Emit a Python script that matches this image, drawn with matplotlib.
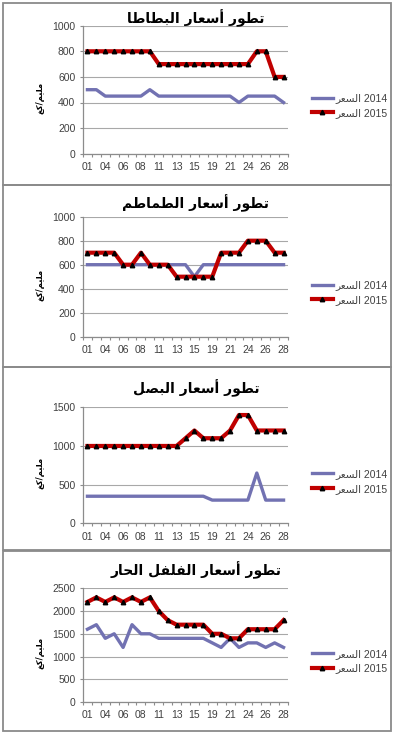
import matplotlib
matplotlib.use("Agg")
import matplotlib.pyplot as plt
from matplotlib.patches import Rectangle

# days of the month on the x axis
days = ['01', '03', '04', '05', '06', '07', '08', '10', '11', '12', '13', '14',
        '15', '18', '19', '20', '21', '22', '24', '25', '26', '27', '28']

potato_2014 = [500, 500, 450, 450, 450, 450, 450, 500, 450, 450, 450, 450,
               450, 450, 450, 450, 450, 400, 450, 450, 450, 450, 400]
potato_2015 = [800, 800, 800, 800, 800, 800, 800, 800, 700, 700, 700, 700,
               700, 700, 700, 700, 700, 700, 700, 800, 800, 600, 600]

tomato_2014 = [600, 600, 600, 600, 600, 600, 600, 600, 600, 600, 600, 600,
               500, 600, 600, 600, 600, 600, 600, 600, 600, 600, 600]
tomato_2015 = [700, 700, 700, 700, 600, 600, 700, 600, 600, 600, 500, 500,
               500, 500, 500, 700, 700, 700, 800, 800, 800, 700, 700]

onion_2014 = [350, 350, 350, 350, 350, 350, 350, 350, 350, 350, 350, 350,
              350, 350, 300, 300, 300, 300, 300, 650, 300, 300, 300]
onion_2015 = [1000, 1000, 1000, 1000, 1000, 1000, 1000, 1000, 1000, 1000, 1000, 1100,
              1200, 1100, 1100, 1100, 1200, 1400, 1400, 1200, 1200, 1200, 1200]

pepper_2014 = [1600, 1700, 1400, 1500, 1200, 1700, 1500, 1500, 1400, 1400, 1400, 1400,
               1400, 1400, 1300, 1200, 1400, 1200, 1300, 1300, 1200, 1300, 1200]
pepper_2015 = [2200, 2300, 2200, 2300, 2200, 2300, 2200, 2300, 2000, 1800, 1700, 1700,
               1700, 1700, 1500, 1500, 1400, 1400, 1600, 1600, 1600, 1600, 1800]

titles = ['تطور أسعار البطاطا', 'تطور أسعار الطماطم',
          'تطور أسعار البصل', 'تطور أسعار الفلفل الحار']
ylabel = 'مليم/كغ'
series_word = 'السعر'


# matplotlib has no arabic shaping, so do it by hand with presentation forms
def dual(b):
    return (b, b + 1, b + 2, b + 3)

def right(b):
    return (b, b + 1, None, None)

FORMS = {
    'ا': right(0xFE8D), 'أ': right(0xFE83), 'ر': right(0xFEAD), 'و': right(0xFEED),
    'ب': dual(0xFE8F), 'ت': dual(0xFE95), 'ح': dual(0xFEA1), 'س': dual(0xFEB1),
    'ص': dual(0xFEB9), 'ط': dual(0xFEC1), 'ع': dual(0xFEC9), 'غ': dual(0xFECD),
    'ف': dual(0xFED1), 'ك': dual(0xFED9), 'ل': dual(0xFEDD), 'م': dual(0xFEE1),
    'ي': dual(0xFEF1),
}

def shape(s):
    out = []
    for i, c in enumerate(s):
        if c not in FORMS:
            out.append(c)
            continue
        iso, fin, ini, med = FORMS[c]
        prev = s[i - 1] if i > 0 else ''
        nxt = s[i + 1] if i + 1 < len(s) else ''
        jp = prev in FORMS and FORMS[prev][2] is not None
        jn = nxt in FORMS and ini is not None
        if jp and jn:
            code = med
        elif jp:
            code = fin
        elif jn:
            code = ini
        else:
            code = iso
        out.append(chr(code))
    return ''.join(out)[::-1]


W, H = 394, 733
fig = plt.figure(figsize=(W / 100, H / 100), dpi=100)
plt.rcParams['font.family'] = ['Liberation Sans', 'DejaVu Sans']

# y range, y step, plot top/bottom, border top/bottom, title y (pixels)
panels = [
    (potato_2014, potato_2015, 1000, 200, 25.7, 153.7, 3, 184.5, 18),
    (tomato_2014, tomato_2015, 1000, 200, 216.7, 336.7, 185, 366.5, 203),
    (onion_2014, onion_2015, 1500, 500, 407.3, 523.3, 367, 549.5, 388),
    (pepper_2014, pepper_2015, 2500, 500, 588.3, 702, 550.5, 730.5, 570),
]

gray = '#8c8c8c'
x = list(range(len(days)))

for k, (s14, s15, ymax, ystep, ytop, ybot, btop, bbot, ty) in enumerate(panels):
    # border around each chart
    fig.add_artist(Rectangle((2.5 / W, 1 - bbot / H), 388 / W, (bbot - btop) / H,
                             transform=fig.transFigure, fill=False,
                             edgecolor='#8a8a8a', lw=1.3))
    ax = fig.add_axes([83 / W, 1 - ybot / H, 205 / W, (ybot - ytop) / H])
    ax.plot(x, s14, color='#7272b2', lw=2.4,
            label=shape(series_word) + ' 2014')
    ax.plot(x, s15, color='#c00000', lw=3.0, marker='^', ms=3.2,
            mfc='black', mec='black', label=shape(series_word) + ' 2015')
    ax.set_xlim(-0.5, len(days) - 0.5)
    ax.set_ylim(0, ymax)
    ax.set_yticks(range(0, ymax + 1, ystep))
    ax.set_xticks(x[::2])
    ax.set_xticklabels(days[::2])
    ax.set_xticks([i - 0.5 for i in range(len(days) + 1)], minor=True)
    ax.tick_params(axis='x', which='major', length=0, pad=6, labelsize=7.5,
                   labelcolor='#404040')
    ax.tick_params(axis='x', which='minor', length=2.5, color=gray, width=0.8)
    ax.tick_params(axis='y', length=2.5, color=gray, width=0.8, pad=3,
                   labelsize=7.5, labelcolor='#404040')
    ax.grid(axis='y', color='#a8a8a8', lw=0.8)
    ax.set_axisbelow(True)
    for sp in ['top', 'right']:
        ax.spines[sp].set_visible(False)
    for sp in ['left', 'bottom']:
        ax.spines[sp].set_color(gray)
        ax.spines[sp].set_linewidth(0.9)

    fig.text(196 / W, 1 - ty / H, shape(titles[k]), ha='center', va='center',
             fontsize=10, fontweight='bold', family=['DejaVu Sans'])
    fig.text(40 / W, 1 - ((ytop + ybot) / 2 + 8) / H, shape(ylabel), rotation=90,
             ha='center', va='center', fontsize=6, fontweight='bold',
             family=['DejaVu Sans'])
    ax.legend(loc='center left', bbox_to_anchor=(312 / W, 1 - ((ytop + ybot) / 2 + 16) / H),
              bbox_transform=fig.transFigure, frameon=False, fontsize=7.5,
              handlelength=2.0, handletextpad=0.25, labelspacing=0.45,
              borderpad=0, borderaxespad=0, labelcolor='#404040')

fig.savefig('out.png', dpi=100)
